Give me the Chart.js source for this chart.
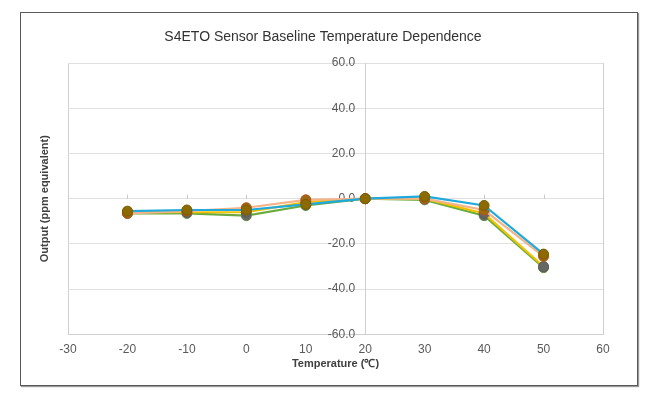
<!DOCTYPE html>
<html>
<head>
<meta charset="utf-8">
<script src="https://cdn.jsdelivr.net/npm/chart.js@4"></script>
<style>
  html, body { margin: 0; padding: 0; background: #fff; }
  #wrap { position: relative; width: 646px; height: 396px; }
  #frame { position: absolute; left: 20px; top: 12px; width: 616px; height: 372px; border: 1px solid #595959; box-shadow: 1px 1px 1px #999; }
  canvas { position: absolute; left: 0; top: 0; }
</style>
</head>
<body>
<div id="wrap">
  <div id="frame"></div>
  <canvas id="chart" width="646" height="396"></canvas>
</div>
<script>
// --- DATA ---
const temps = [-20, -10, 0, 10, 20, 30, 40, 50];
const sensorA = [-5.5, -5, -5, -2.5, 0, 1, -3, -24.5];   // blue
const sensorB = [-6.5, -5.5, -4, -0.5, 0, 0, -5, -25.5]; // salmon
const sensorC = [-6, -6, -6, -1.5, 0, 0, -6.5, -30];     // yellow
const sensorD = [-6.5, -6.5, -7.5, -3, 0, -0.5, -7.5, -30.5]; // green
const xTicks = [-30, -20, -10, 0, 10, 20, 30, 40, 50, 60];
const yTicks = [-60, -40, -20, 0, 20, 40, 60];
const chartTitle = "S4ETO Sensor Baseline Temperature Dependence";

function pts(vals) {
  return temps.map((t, i) => ({ x: t, y: vals[i] }));
}

function series(vals, line, marker, border) {
  return {
    data: pts(vals),
    borderColor: line,
    borderWidth: 2.2,
    pointRadius: 5,
    pointBackgroundColor: marker,
    pointBorderColor: border,
    pointBorderWidth: 1,
    tension: 0
  };
}

// small tick marks along the zero line, title and left axis title
const extras = {
  id: "extras",
  beforeDatasetsDraw(chart) {
    const { ctx, scales } = chart;
    const y0 = scales.y.getPixelForValue(0);
    ctx.save();
    ctx.strokeStyle = "#c8c8c8";
    ctx.lineWidth = 1;
    xTicks.forEach(t => {
      const px = Math.round(scales.x.getPixelForValue(t)) + 0.5;
      ctx.beginPath();
      ctx.moveTo(px, y0);
      ctx.lineTo(px, y0 - 4);
      ctx.stroke();
    });
    ctx.restore();
  },
  afterDraw(chart) {
    const { ctx, chartArea } = chart;
    ctx.save();
    ctx.font = "14px 'Liberation Sans', Arial, sans-serif";
    ctx.fillStyle = "#333333";
    ctx.textAlign = "center";
    ctx.textBaseline = "middle";
    ctx.fillText(chartTitle, 323, 37);

    ctx.translate(45, (chartArea.top + chartArea.bottom) / 2);
    ctx.rotate(-Math.PI / 2);
    ctx.font = "bold 11px 'Liberation Sans', Arial, sans-serif";
    ctx.fillStyle = "#404040";
    ctx.fillText("Output (ppm equivalent)", 0, 0);
    ctx.restore();
  }
};

const ctx = document.getElementById("chart").getContext("2d");
new Chart(ctx, {
  type: "line",
  data: {
    datasets: [
      series(sensorA, "#1fa9dc", "#8c6a00", "#7a5c00"),
      series(sensorB, "#f4b48a", "#9c6a10", "#b5501d"),
      series(sensorC, "#f2c200", "#666666", "#5a5a5a"),
      series(sensorD, "#6aab3f", "#6a6a6a", "#5a8a3a")
    ]
  },
  options: {
    responsive: false,
    animation: false,
    layout: { padding: { left: 68, right: 43, top: 63, bottom: 25 } },
    plugins: {
      legend: { display: false },
      tooltip: { enabled: false },
      title: { display: false }
    },
    scales: {
      x: {
        type: "linear",
        min: -30,
        max: 60,
        afterBuildTicks: axis => { axis.ticks = xTicks.map(v => ({ value: v })); },
        ticks: {
          color: "#595959",
          font: { family: "'Liberation Sans', Arial, sans-serif", size: 12 },
          padding: 8
        },
        grid: {
          drawTicks: false,
          color: c => (c.tick && (c.tick.value === -30 || c.tick.value === 60)) ? "#d0d0d0" : "rgba(0,0,0,0)"
        },
        border: { color: "#d0d0d0" },
        title: {
          display: true,
          text: "Temperature (℃)",
          color: "#404040",
          font: { family: "'Liberation Sans', Arial, sans-serif", size: 11, weight: "bold" },
          padding: { top: -7, bottom: 0 }
        }
      },
      y: {
        type: "linear",
        position: { x: 20 },
        min: -60,
        max: 60,
        afterBuildTicks: axis => { axis.ticks = yTicks.map(v => ({ value: v })); },
        ticks: {
          color: "#595959",
          font: { family: "'Liberation Sans', Arial, sans-serif", size: 12 },
          callback: v => v.toFixed(1) + "   "
        },
        grid: { color: "#e0e0e0", drawTicks: false },
        border: { color: "#d0d0d0" }
      }
    }
  },
  plugins: [extras]
});
</script>
</body>
</html>
